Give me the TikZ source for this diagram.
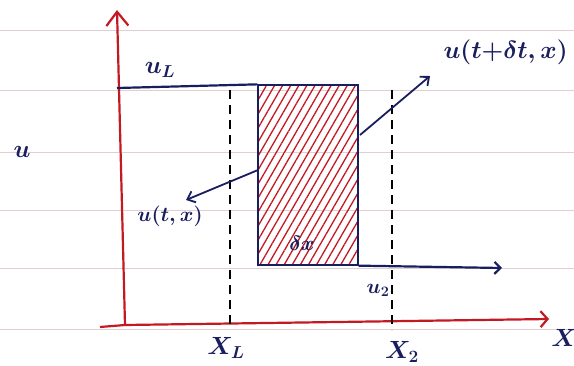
\documentclass[tikz,border=0pt]{standalone}
\usetikzlibrary{patterns.meta,arrows.meta}
\definecolor{ink}{RGB}{25,30,95}
\definecolor{redink}{RGB}{195,25,35}
\definecolor{rule}{RGB}{225,205,210}
\begin{document}
\begin{tikzpicture}[x=1pt,y=-1pt,
  axis/.style={redink,line width=2.2pt},
  bline/.style={ink,line width=2.2pt},
  dline/.style={black,line width=1.6pt,dash pattern=on 9pt off 6pt},
  lbl/.style={ink,font=\fontsize{24}{28}\selectfont\boldmath},
  slbl/.style={ink,font=\fontsize{21}{25}\selectfont\boldmath},
  ptr/.style={ink,line width=1.8pt,-{Straight Barb[length=7pt,width=12pt]}}]
\useasboundingbox (0,0) rectangle (574,365);
\fill[white] (0,0) rectangle (574,365);
% ruled paper
\foreach \yy in {30,90,152,210,268,329}
  \draw[rule,line width=0.8pt] (0,\yy) -- (574,\yy);
% axes
\coordinate (O) at (125,325);
\coordinate (ytop) at (117,10);
\coordinate (xend) at (549,319);
\draw[axis,-{Straight Barb[length=14pt,width=22pt]}] (O) -- (ytop);
\draw[axis] (100,327) -- (O);
\draw[axis,-{Straight Barb[length=7pt,width=16pt]}] (O) -- (xend);
% shaded box
\node[draw=ink,line width=2.2pt,
  pattern={Lines[angle=60,distance=7pt,line width=1.3pt]},pattern color=redink,
  minimum width=100pt,minimum height=180pt,inner sep=0pt] (box) at (308,175) {};
% u_L line and u_2 line
\coordinate (uLstart) at (117,88);
\coordinate (u2end) at (502,268);
\draw[bline] (uLstart) -- (box.north west);
\draw[bline,-{Straight Barb[length=6pt,width=12pt]}] (box.south east) -- (u2end);
% dashed verticals
\coordinate (xLtop) at (230,90);
\coordinate (xLbot) at (230,327);
\coordinate (x2top) at (392,90);
\coordinate (x2bot) at (392,330);
\draw[dline] (xLtop) -- (xLbot);
\draw[dline] (x2top) -- (x2bot);
% labels
\node[lbl] (lu) at (22,152) {$u$};
\node[lbl] (luL) at (160,70) {$u_L$};
\node[lbl] (lx) at (564,338) {$X$};
\node[lbl] (lxL) at (226,348) {$X_L$};
\node[lbl] (lx2) at (402,352) {$X_2$};
\node[slbl] (lu2) at (378,290) {$u_2$};
\node[slbl] (ldx) at (302,243) {$\delta x$};
\node[slbl] (lutx) at (170,216) {$u(t,x)$};
\node[lbl,anchor=west] (lutdx) at (440,52) {$u(t{+}\delta t,x)$};
% pointers
\coordinate (p1) at (258,170);
\coordinate (p1e) at (186,200);
\draw[ptr] (p1) -- (p1e);
\coordinate (p2) at (360,135);
\coordinate (p2e) at (430,76);
\draw[ptr] (p2) -- (p2e);
\end{tikzpicture}
\end{document}
